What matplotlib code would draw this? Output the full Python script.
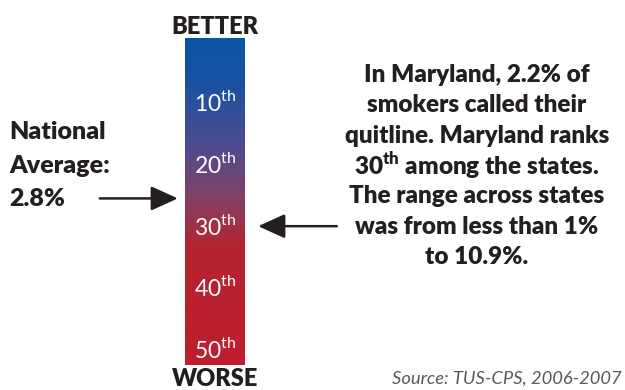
import numpy as np
import matplotlib
matplotlib.use("Agg")
import matplotlib.pyplot as plt
from matplotlib.colors import LinearSegmentedColormap

# rank scale shown on the bar
rank_ticks = [10, 20, 30, 40, 50]
rank_min, rank_max = -0.5, 52.5
maryland_rank = 30
national_rank = 25.5  # where the 2.8% national average falls

left_lines = ["National", "Average:", "2.8%"]
right_lines = [
    "In Maryland, 2.2% of",
    "smokers called their",
    "quitline. Maryland ranks",
    r"30$^{\mathbf{th}}$ among the states.",
    "The range across states",
    "was from less than 1%",
    "to 10.9%.",
]
source = "Source: TUS-CPS, 2006-2007"

plt.rcParams["font.family"] = ["Lato", "DejaVu Sans"]
plt.rcParams["mathtext.fontset"] = "custom"
plt.rcParams["mathtext.rm"] = "Lato"
plt.rcParams["mathtext.bf"] = "Lato:weight=800"

dark = "#231f20"
heavy = 800

fig = plt.figure(figsize=(6.25, 3.9), dpi=100)
W, H = 625, 390

# gradient bar
ax = fig.add_axes([185 / W, (H - 365) / H, 60 / W, 327 / H])
cmap = LinearSegmentedColormap.from_list("better_worse", [
    (0.0, "#0b53a6"),
    (0.12, "#1652a3"),
    (0.33, "#4f4b8f"),
    (0.48, "#7f4267"),
    (0.64, "#b4242f"),
    (1.0, "#bf1e2d"),
])
grad = np.linspace(0, 1, 256).reshape(-1, 1)
ax.imshow(grad, cmap=cmap, aspect="auto", extent=[0, 1, rank_max, rank_min])
ax.set_xlim(0, 1)
ax.set_ylim(rank_max, rank_min)
ax.axis("off")

for r in rank_ticks:
    ax.text(0.5, r, rf"{r}$^{{\mathrm{{th}}}}$", color="white", fontsize=16.5,
            ha="center", va="center")

ax.text(0.5, 1.0, "BETTER", transform=ax.transAxes, ha="center", va="bottom",
        fontsize=17, fontweight=heavy, color=dark)
ax.text(0.5, -0.01, "WORSE", transform=ax.transAxes, ha="center", va="top",
        fontsize=17, fontweight=heavy, color=dark)

arrow = dict(arrowstyle="-|>,head_length=0.55,head_width=0.25", lw=1.8,
             color=dark, mutation_scale=30, shrinkA=0, shrinkB=0)
ax.annotate("", xy=(-0.12, national_rank), xycoords=("axes fraction", "data"),
            xytext=(-1.42, national_rank), textcoords=("axes fraction", "data"),
            arrowprops=arrow)
ax.annotate("", xy=(1.22, maryland_rank), xycoords=("axes fraction", "data"),
            xytext=(2.53, maryland_rank), textcoords=("axes fraction", "data"),
            arrowprops=arrow)

# text blocks
for i, line in enumerate(left_lines):
    fig.text(9 / W, 1 - (132 + 33.5 * i) / H, line, ha="left", va="center",
             fontsize=18, fontweight=heavy, color=dark)

for i, line in enumerate(right_lines):
    fig.text(477 / W, 1 - (75 + 30.3 * i) / H, line, ha="center", va="center",
             fontsize=17.5, fontweight=heavy, color=dark)

fig.text(622 / W, 1 - 379 / H, source, ha="right", va="center",
         fontsize=13.2, style="italic", color="#58595b")

fig.savefig("out.png", dpi=100)
